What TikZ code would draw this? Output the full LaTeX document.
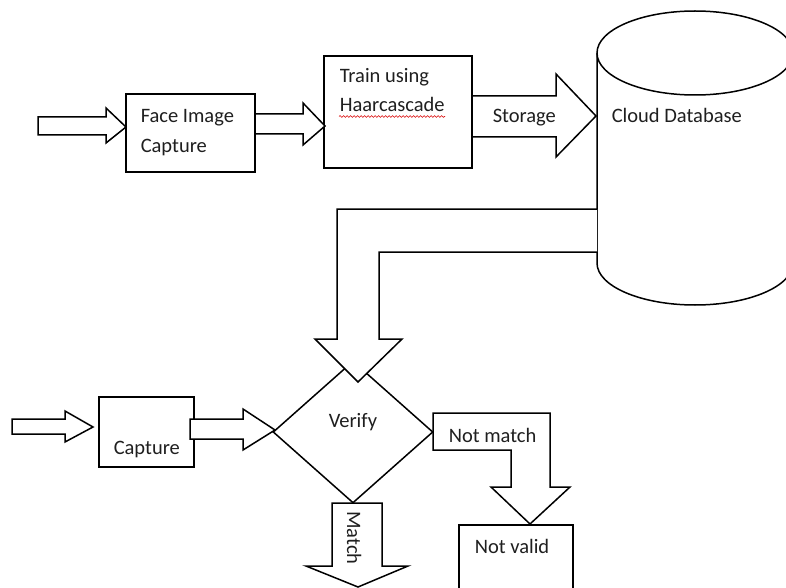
\documentclass[tikz,border=0pt]{standalone}
\usepackage{fontspec}
\setmainfont{Carlito}
\usetikzlibrary{shapes.geometric,decorations.pathmorphing}
\begin{document}
\begin{tikzpicture}[x=1pt,y=-1pt,
  line width=1.5pt,
  box/.style={draw,rectangle,fill=white,inner sep=0pt},
  blk/.style={draw,fill=white,line join=miter},
  lbl/.style={anchor=base west,inner sep=0pt,font=\fontsize{20.5}{24}\selectfont,text=black!88}]
\clip (0,0) rectangle (786,588);
\fill[white] (0,0) rectangle (786,588);

% cylinder
\coordinate (cylT) at (695,53);
\coordinate (cylB) at (695,263);
\draw[fill=white] (597,53) -- (597,263) arc[start angle=180,end angle=0,x radius=98,y radius=42] -- (793,53);
\draw[fill=white] (cylT) ellipse[x radius=98,y radius=42];
\node[lbl] (cloud) at (611,123) {Cloud Database};

% boxes
\node[box,minimum width=129pt,minimum height=78pt] (face) at (190.5,133) {};
\node[box,minimum width=148pt,minimum height=112pt] (train) at (398,112) {};
\node[box,minimum width=95pt,minimum height=70pt] (cap) at (146.5,432) {};
\node[box,minimum width=114pt,minimum height=80pt] (nv) at (516,565) {};
\node[draw,diamond,fill=white,minimum width=160pt,minimum height=142pt,inner sep=0pt] (ver) at (353,432) {};

\node[lbl] (t1) at (140,123) {Face Image};
\node[lbl] (t2) at (140,153) {Capture};
\node[lbl] (t3) at (339,83) {Train using};
\node[lbl] (t4) at (339,112) {Haarcascade};
\draw[red!85!black,line width=0.6pt,decorate,decoration={snake,amplitude=0.9pt,segment length=3.5pt}] (339,116.5) -- (445,116.5);
\node[lbl] (t5) at (113,454) {Capture};
\node[lbl] (t6) at (328,427) {Verify};
\node[lbl] (t9) at (474,553) {Not valid};

% block arrows
\draw[blk] (38,117) -- (106,117) -- (106,108) -- (126,127) -- (106,143) -- (106,135) -- (38,135) -- cycle;
\draw[blk] (255,114) -- (303,114) -- (303,103) -- (325,126) -- (303,145) -- (303,134) -- (255,134) -- cycle;
\draw[blk] (472,96) -- (556,96) -- (556,74) -- (596,116) -- (556,157) -- (556,137) -- (472,137) -- cycle;
\node[lbl] (t7) at (492,123) {Storage};

\draw[blk] (597,209) -- (337,209) -- (337,339) -- (315,339) -- (358,382) -- (402,339) -- (379,339) -- (379,252) -- (597,252);

\draw[blk] (12,419) -- (65,419) -- (65,411) -- (93,427) -- (65,442) -- (65,434) -- (12,434) -- cycle;
\draw[blk] (190,419) -- (243,419) -- (243,409) -- (275,430) -- (243,450) -- (243,439) -- (190,439) -- cycle;

\draw[blk] (433,413) -- (550,413) -- (550,487) -- (570,487) -- (530,524) -- (491,487) -- (511,487) -- (511,450) -- (433,450) -- cycle;
\node[lbl] (t8) at (448,442) {Not match};

\draw[blk] (332,503) -- (382,503) -- (382,566) -- (408,566) -- (358,587) -- (306,566) -- (332,566) -- cycle;
\node[lbl,anchor=base,rotate=-90] (t10) at (347,538) {Match};
\end{tikzpicture}
\end{document}
